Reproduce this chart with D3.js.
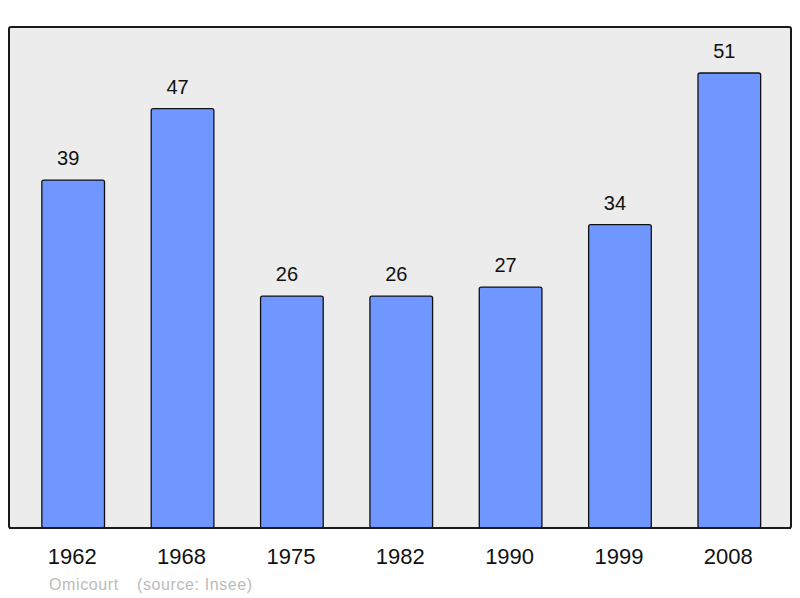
<!DOCTYPE html>
<html>
<head>
<meta charset="utf-8">
<script src="https://cdn.jsdelivr.net/npm/d3@7"></script>
<style>
  body { margin: 0; background: #fff; }
  svg { display: block; font-family: "Liberation Sans", Arial, sans-serif; }
</style>
</head>
<body>
<div id="chart"></div>
<script>
var years = ['1962', '1968', '1975', '1982', '1990', '1999', '2008'];
var population = [39, 47, 26, 26, 27, 34, 51];
var place = 'Omicourt';
var source = '(source: Insee)';

var width = 800, height = 598;
var panel = { left: 9, top: 27, right: 791, bottom: 528 };

var svg = d3.select('#chart').append('svg')
    .attr('width', width)
    .attr('height', height);

var x = d3.scaleBand()
    .domain(years)
    .range([18.5, 784])
    .paddingInner(0.427)
    .paddingOuter(0.2135);

// 51 -> top at 73px
var y = d3.scaleLinear()
    .domain([0, 51])
    .range([panel.bottom, 73]);

svg.append('rect')
    .attr('x', panel.left)
    .attr('y', panel.top)
    .attr('width', panel.right - panel.left)
    .attr('height', panel.bottom - panel.top)
    .attr('rx', 2)
    .style('fill', '#ececec')
    .style('stroke', '#1a1a1a')
    .style('stroke-width', 2);

var bar = svg.selectAll('.bar')
    .data(years)
    .enter()
    .append('g').attr('class', 'bar');

bar.append('rect')
    .attr('x', function (d) { return x(d); })
    .attr('y', function (d, i) { return y(population[i]); })
    .attr('width', x.bandwidth())
    .attr('height', function (d, i) { return panel.bottom - y(population[i]); })
    .attr('rx', 2)
    .style('fill', '#7097ff')
    .style('stroke', '#111')
    .style('stroke-width', 1.3);

// value labels sit a bit left of the bar centre in the original
bar.append('text')
    .attr('x', function (d) { return x(d) + x.bandwidth() / 2 - 5; })
    .attr('y', function (d, i) { return y(population[i]) - 15; })
    .style('text-anchor', 'middle')
    .style('font-size', '20px')
    .style('fill', '#111')
    .text(function (d, i) { return population[i]; });

svg.append('line')
    .attr('x1', panel.left)
    .attr('x2', panel.right)
    .attr('y1', panel.bottom)
    .attr('y2', panel.bottom)
    .style('stroke', '#1a1a1a')
    .style('stroke-width', 2);

var xAxis = svg.append('g')
    .attr('transform', 'translate(-1,' + panel.bottom + ')')
    .call(d3.axisBottom(x).tickSize(0).tickPadding(20));
xAxis.select('.domain').remove();
xAxis.selectAll('text')
    .style('font-family', '"Liberation Sans", Arial, sans-serif')
    .style('font-size', '22px')
    .style('fill', '#111');

svg.append('text')
    .attr('x', 49)
    .attr('y', 590)
    .style('font-size', '16px')
    .style('letter-spacing', '0.6px')
    .style('fill', '#bbbbbb')
    .text(place);

svg.append('text')
    .attr('x', 137)
    .attr('y', 590)
    .style('font-size', '16px')
    .style('letter-spacing', '0.6px')
    .style('fill', '#bbbbbb')
    .text(source);
</script>
</body>
</html>
